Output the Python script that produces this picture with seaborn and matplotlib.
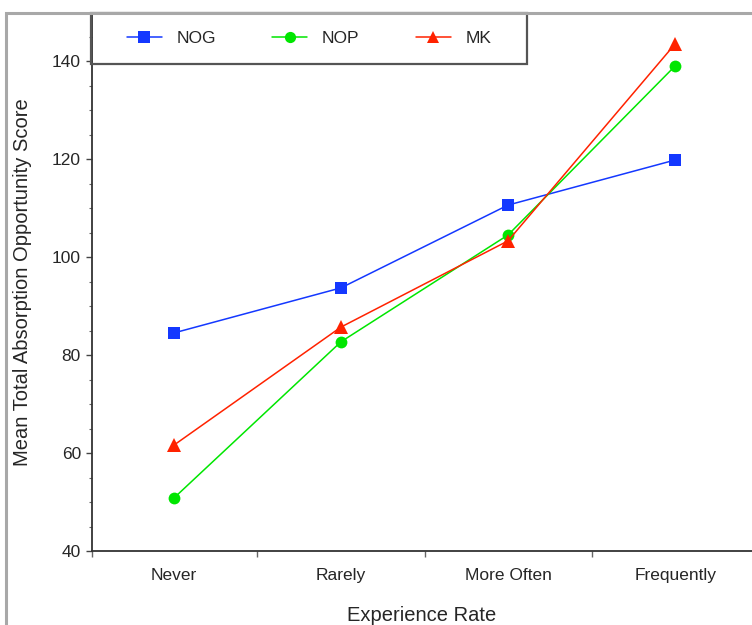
import matplotlib
matplotlib.use("Agg")
import matplotlib.pyplot as plt
from matplotlib.lines import Line2D
from matplotlib.patches import Rectangle
from matplotlib.ticker import MultipleLocator, FixedLocator
import seaborn as sns
import pandas as pd

categories = ["Never", "Rarely", "More Often", "Frequently"]
nog = [84.5, 93.7, 110.6, 119.8]
nop = [50.8, 82.7, 104.5, 139.0]
mk = [61.6, 85.7, 103.3, 143.5]
series_names = ["NOG", "NOP", "MK"]

colors = {"NOG": "#1438ff", "NOP": "#00e600", "MK": "#ff2200"}
markers = {"NOG": "s", "NOP": "o", "MK": "^"}
msizes = {"NOG": 9.0, "NOP": 8.5, "MK": 9.5}

rows = []
for name, vals in zip(series_names, [nog, nop, mk]):
    for i, (c, v) in enumerate(zip(categories, vals)):
        rows.append({"idx": i, "Experience Rate": c, "value": v, "series": name})
df = pd.DataFrame(rows)

sns.set_style("ticks")
plt.rcParams["font.family"] = ["Liberation Sans", "DejaVu Sans"]

W, H = 752, 625
fig = plt.figure(figsize=(7.52, 6.25), dpi=100)
ax = fig.add_axes([92 / W, 74 / H, 660 / W, 538 / H])

for name in series_names:
    sub = df[df["series"] == name]
    sns.lineplot(data=sub, x="idx", y="value", color=colors[name], marker=markers[name],
                 markersize=msizes[name], markeredgewidth=0, linewidth=1.1, ax=ax,
                 legend=False)

ax.set_xlim(-0.49, 3.46)
ax.set_ylim(40, 149.8)

ax.yaxis.set_major_locator(FixedLocator([40, 60, 80, 100, 120, 140]))
ax.yaxis.set_minor_locator(MultipleLocator(5))
ax.xaxis.set_major_locator(FixedLocator([0, 1, 2, 3]))
ax.set_xticklabels(categories)
ax.xaxis.set_minor_locator(FixedLocator([-0.49, 0.5, 1.5, 2.5]))

ax.tick_params(axis="y", which="major", length=4.5, width=1, color="#444444",
               labelsize=12.5, pad=3.5, direction="out")
ax.tick_params(axis="y", which="minor", length=2.5, width=0.8, color="#666666", direction="out")
ax.tick_params(axis="x", which="major", length=0, labelsize=12.5, pad=12)
ax.tick_params(axis="x", which="minor", length=4.5, width=1, color="#666666", direction="out")

for s in ["top", "right"]:
    ax.spines[s].set_visible(False)
for s in ["left", "bottom"]:
    ax.spines[s].set_color("#333333")
    ax.spines[s].set_linewidth(1.3)

ax.set_xlabel("Experience Rate", fontsize=14.5, labelpad=17)
ax.set_ylabel("Mean Total Absorption Opportunity Score", fontsize=14.5, labelpad=14.5)

handles = [Line2D([], [], color=colors[n], marker=markers[n], markersize=msizes[n] * 0.95,
                  markeredgewidth=0, linewidth=1.1) for n in series_names]
leg = ax.legend(handles, series_names, loc="center left",
                bbox_to_anchor=((127 - 92) / 660, (551 - 38) / 538),
                ncol=3, frameon=False, fontsize=12.5, borderpad=0, borderaxespad=0,
                handlelength=2.0, handletextpad=0.85, columnspacing=3.25)

# legend box
ax.add_patch(Rectangle(((91 - 92) / 660, (551 - 64) / 538), (527 - 91) / 660, (64 - 13) / 538,
                       transform=ax.transAxes, fill=False, edgecolor="#555555",
                       linewidth=1.6, clip_on=False, zorder=5))

fig.patches.append(Rectangle((6 / W, -0.1), 1.2, (H - 13) / H + 0.1,
                             transform=fig.transFigure, fill=False,
                             edgecolor="#a8a8a8", linewidth=2.2, zorder=0))

fig.savefig("out.png", dpi=100)
